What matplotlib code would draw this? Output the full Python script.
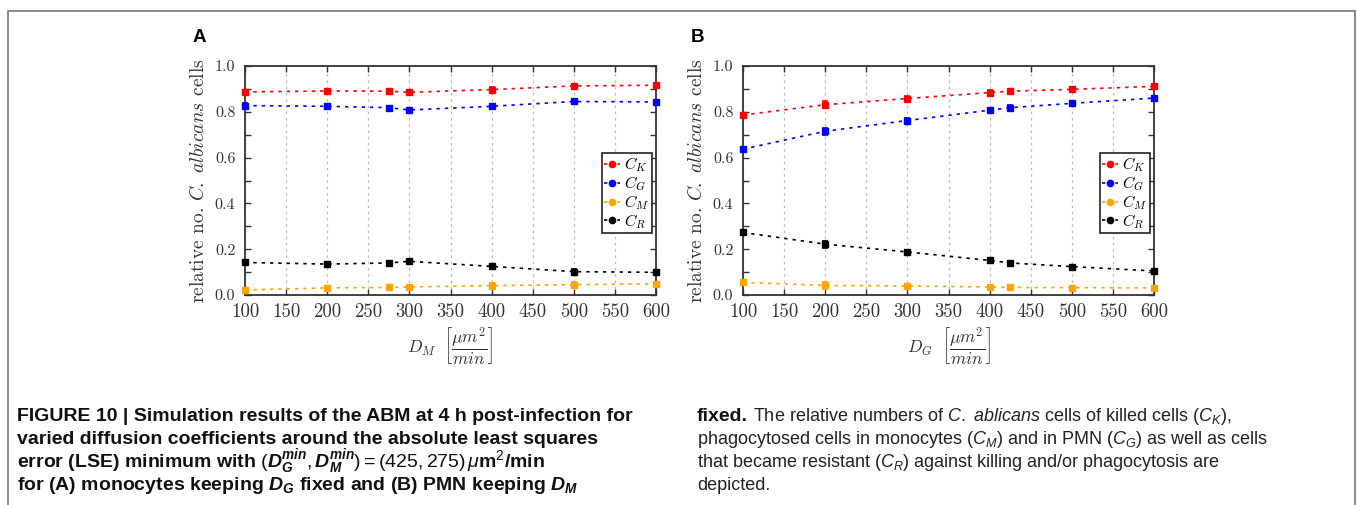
import matplotlib
matplotlib.use("Agg")
import matplotlib.pyplot as plt
from matplotlib.lines import Line2D
from matplotlib.patches import Rectangle

plt.rcParams['mathtext.fontset'] = 'custom'
plt.rcParams['mathtext.rm'] = 'Liberation Sans'
plt.rcParams['mathtext.it'] = 'Liberation Sans:italic'
plt.rcParams['mathtext.bf'] = 'Liberation Sans:bold'
plt.rcParams['mathtext.bfit'] = 'Liberation Sans:italic:bold'
plt.rcParams['font.family'] = 'serif'
plt.rcParams['font.serif'] = ['cmr10']
plt.rcParams['axes.formatter.use_mathtext'] = True

# panel A: vary D_M
dm = [100, 200, 275, 300, 400, 500, 600]
a_ck = [0.887, 0.891, 0.890, 0.885, 0.897, 0.913, 0.916]
a_cg = [0.827, 0.824, 0.818, 0.808, 0.824, 0.845, 0.843]
a_cm = [0.022, 0.031, 0.033, 0.035, 0.041, 0.045, 0.049]
a_cr = [0.142, 0.135, 0.140, 0.147, 0.125, 0.102, 0.099]
a_err = [0.010, 0.010, 0.008, 0.010, 0.010, 0.010, 0.009]

# panel B: vary D_G
dg = [100, 200, 300, 400, 425, 500, 600]
b_ck = [0.786, 0.831, 0.858, 0.884, 0.890, 0.898, 0.911]
b_cg = [0.637, 0.715, 0.762, 0.807, 0.818, 0.837, 0.860]
b_cm = [0.055, 0.042, 0.039, 0.035, 0.033, 0.032, 0.031]
b_cr = [0.273, 0.222, 0.188, 0.151, 0.140, 0.124, 0.105]
b_err = [0.010, 0.015, 0.010, 0.010, 0.010, 0.009, 0.010]

labels = ['$C_K$', '$C_G$', '$C_M$', '$C_R$']
colors = ['#ff0000', '#0000ff', '#ffa500', '#000000']
xticks = list(range(100, 601, 50))
yticks = [0.0, 0.2, 0.4, 0.6, 0.8, 1.0]

W, H = 1357, 505
fig = plt.figure(figsize=(W / 100, H / 100), dpi=100)

fig.add_artist(Rectangle((8 / W, -0.05), (1355 - 8) / W, 1.05 - 11 / H,
                         transform=fig.transFigure, fill=False,
                         edgecolor='#777777', linewidth=1.2))


def panel(left, xs, series, errs, xname, letter):
    ax = fig.add_axes([left / W, 1 - 295 / H, 411 / W, (295 - 66) / H])
    for ys, c in zip(series, colors):
        ax.errorbar(xs, ys, yerr=errs, color=c, marker='s', markersize=4.5,
                    linestyle=(0, (2, 3)), linewidth=1.2, capsize=2.5,
                    elinewidth=1.2, capthick=1.2, clip_on=False, zorder=3)
    ax.set_xlim(100, 600)
    ax.set_ylim(0, 1)
    ax.set_xticks(xticks)
    ax.set_yticks(yticks)
    ax.set_yticks([0.1, 0.3, 0.5, 0.7, 0.9], minor=True)
    ax.set_yticklabels([f'{v:.1f}' for v in yticks], fontsize=11.5, color='#333333')
    ax.set_xticklabels([str(v) for v in xticks], fontsize=13.5, color='#333333')
    ax.tick_params(which='both', direction='in', top=True, right=True,
                   length=4, width=1, color='#333333')
    ax.tick_params(axis='y', pad=7)
    ax.tick_params(axis='x', pad=6)
    ax.grid(axis='x', color='#bbbbbb', linestyle=(0, (2, 3)), linewidth=0.9)
    for s in ax.spines.values():
        s.set_linewidth(1.3)
        s.set_color('#333333')
    ax.set_ylabel(r'relative no. $C.\ albicans$ cells', fontsize=14,
                  math_fontfamily='cm', labelpad=5, color='#333333')
    ax.set_xlabel(r'$%s\ \ \left[\dfrac{\mu m^2}{min}\right]$' % xname, fontsize=12.5,
                  math_fontfamily='cm', labelpad=3, color='#333333')
    handles = [Line2D([], [], color=c, marker='o', markersize=4.5,
                      linestyle=(0, (2, 2)), linewidth=1.2) for c in colors]
    leg = ax.legend(handles, labels, loc='center right',
                    bbox_to_anchor=(0.99, 0.445), fontsize=11.5, fancybox=False,
                    framealpha=1, edgecolor='#222222', borderpad=0.15,
                    labelspacing=0.0, handlelength=1.0, handletextpad=0.25,
                    borderaxespad=0)
    leg.get_frame().set_linewidth(1.2)
    for t in leg.get_texts():
        t.set_math_fontfamily('cm')
    fig.text((left - 52) / W, 1 - 37 / H, letter, fontsize=13.5,
             fontweight='bold', family='Liberation Sans', va='center')
    return ax


panel(245, dm, [a_ck, a_cg, a_cm, a_cr], a_err, 'D_M', 'A')
panel(743, dg, [b_ck, b_cg, b_cm, b_cr], b_err, 'D_G', 'B')

cap_font = 'Liberation Sans'
left_lines = [
    'FIGURE 10 | Simulation results of the ABM at 4 h post-infection for',
    'varied diffusion coefficients around the absolute least squares',
    r'error (LSE) minimum with $(\mathbfit{D}_{\mathbfit{G}}^{\mathbfit{min}}, '
    r'\mathbfit{D}_{\mathbfit{M}}^{\mathbfit{min}}) = (425, 275)\,\mu$m$^2$/min',
    r'for (A) monocytes keeping $\mathbfit{D}_{\mathbfit{G}}$ fixed and (B) PMN keeping '
    r'$\mathbfit{D}_{\mathbfit{M}}$',
]
right_first = r' The relative numbers of $\mathit{C.\ ablicans}$ cells of killed cells ($\mathit{C}_{\mathit{K}}$),'
right_lines = [
    r'phagocytosed cells in monocytes ($\mathit{C}_{\mathit{M}}$) and in PMN '
    r'($\mathit{C}_{\mathit{G}}$) as well as cells',
    r'that became resistant ($\mathit{C}_{\mathit{R}}$) against killing and/or phagocytosis are',
    'depicted.',
]
baselines = [421, 444, 467, 490]
for line, yb in zip(left_lines, baselines):
    fig.text(17 / W, 1 - yb / H, line, family=cap_font, fontweight='bold',
             fontsize=14, va='baseline', color='#111111')

t0 = fig.text(697 / W, 1 - baselines[0] / H, 'fixed.', family=cap_font,
              fontweight='bold', fontsize=14, va='baseline', color='#111111')
for line, yb in zip(right_lines, baselines[1:]):
    fig.text(697 / W, 1 - yb / H, line, family=cap_font, fontsize=13,
             va='baseline', color='#222222')

# regular part of the first right-hand line goes after the bold "fixed."
fig.canvas.draw()
bb = t0.get_window_extent()
fig.text(bb.x1 / W, 1 - baselines[0] / H, right_first, family=cap_font,
         fontsize=13, va='baseline', color='#222222')

fig.savefig('out.png', dpi=100)
